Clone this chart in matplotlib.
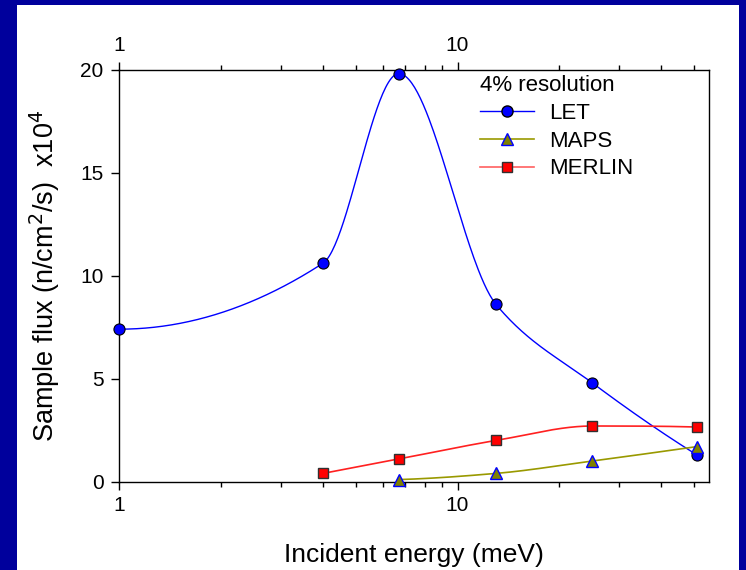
import numpy as np
import matplotlib
matplotlib.use("Agg")
import matplotlib.pyplot as plt
from matplotlib.patches import Rectangle
from matplotlib.lines import Line2D
from matplotlib.ticker import FixedLocator, FixedFormatter, NullFormatter, LogLocator

plt.rcParams['font.family'] = ['Liberation Sans', 'DejaVu Sans']

# data
let_e = [1, 4, 6.7, 13, 25, 51]
let_flux = [7.4, 10.6, 19.8, 8.6, 4.8, 1.3]
maps_e = [6.7, 13, 25, 51]
maps_flux = [0.1, 0.4, 1.0, 1.7]
merlin_e = [4, 6.7, 13, 25, 51]
merlin_flux = [0.4, 1.1, 2.0, 2.7, 2.65]


def smooth(x, y, n=400):
    # monotone cubic (pchip) through the points, in log10(x)
    t = np.log10(np.asarray(x, float))
    y = np.asarray(y, float)
    h = np.diff(t)
    dl = np.diff(y) / h
    k = len(t)
    d = np.zeros(k)
    for i in range(1, k - 1):
        if dl[i - 1] * dl[i] > 0:
            w1 = 2 * h[i] + h[i - 1]
            w2 = h[i] + 2 * h[i - 1]
            d[i] = (w1 + w2) / (w1 / dl[i - 1] + w2 / dl[i])

    def end(h0, h1, m0, m1):
        v = ((2 * h0 + h1) * m0 - h0 * m1) / (h0 + h1)
        if np.sign(v) != np.sign(m0):
            return 0.0
        if np.sign(m0) != np.sign(m1) and abs(v) > 3 * abs(m0):
            return 3 * m0
        return v

    if k > 2:
        d[0] = end(h[0], h[1], dl[0], dl[1])
        d[-1] = end(h[-1], h[-2], dl[-1], dl[-2])
    else:
        d[:] = dl[0]
    tt = np.linspace(t[0], t[-1], n)
    j = np.clip(np.searchsorted(t, tt) - 1, 0, k - 2)
    s = (tt - t[j]) / h[j]
    h00 = 2 * s ** 3 - 3 * s ** 2 + 1
    h10 = s ** 3 - 2 * s ** 2 + s
    h01 = -2 * s ** 3 + 3 * s ** 2
    h11 = s ** 3 - s ** 2
    yy = h00 * y[j] + h10 * h[j] * d[j] + h01 * y[j + 1] + h11 * h[j] * d[j + 1]
    return 10 ** tt, yy


fig = plt.figure(figsize=(7.46, 5.70), dpi=100)
fig.patch.set_facecolor('white')
navy = '#00009C'
for r in [(0, 0, 17 / 746, 1), (0, 1 - 5 / 570, 1, 5 / 570), (739 / 746, 0, 7 / 746, 1)]:
    fig.add_artist(Rectangle(r[:2], r[2], r[3], transform=fig.transFigure,
                             facecolor=navy, edgecolor='none', zorder=-1))

ax = fig.add_axes([0.160, 0.155, 0.790, 0.723])

sx, sy = smooth(let_e, let_flux)
ax.plot(sx, sy, color='#0000FF', lw=1.0, zorder=2)
ax.plot(let_e, let_flux, 'o', color='#0000FF', mec='black', mew=0.8, ms=8,
        zorder=4, clip_on=False)
sx, sy = smooth(maps_e, maps_flux)
ax.plot(sx, sy, color='#999900', lw=1.2, zorder=2)
ax.plot(maps_e, maps_flux, '^', color='#808000', mec='#0000FF', mew=1.0, ms=8.5,
        zorder=4, clip_on=False)
sx, sy = smooth(merlin_e, merlin_flux)
ax.plot(sx, sy, color='#FF2020', lw=1.2, zorder=2)
ax.plot(merlin_e, merlin_flux, 's', color='#FF0000', mec='#303030', mew=1.0,
        ms=7.5, zorder=4)

# legend handles
handles = [
    Line2D([], [], color='#0000FF', lw=1.0, marker='o', mfc='#0000FF',
           mec='black', ms=8),
    Line2D([], [], color='#999900', lw=1.2, marker='^', mfc='#808000',
           mec='#0000FF', ms=8.5),
    Line2D([], [], color='#FF6060', lw=1.2, marker='s', mfc='#FF0000',
           mec='#303030', ms=7.5),
]
leg = ax.legend(handles, ['LET', 'MAPS', 'MERLIN'], title='4% resolution',
                loc='upper left', bbox_to_anchor=(0.59, 1.018), frameon=False,
                fontsize=16, title_fontsize=16, handlelength=2.4,
                labelspacing=0.3, handletextpad=0.7, borderaxespad=0.2)
leg._legend_box.align = 'left'

ax.set_xscale('log')
ax.set_xlim(1, 55.3)
ax.set_ylim(0, 20)
ax.set_yticks([0, 5, 10, 15, 20])
ax.xaxis.set_major_locator(FixedLocator([1, 10]))
ax.xaxis.set_major_formatter(FixedFormatter(['1', '10']))
ax.xaxis.set_minor_locator(LogLocator(base=10, subs=np.arange(2, 10)))
ax.xaxis.set_minor_formatter(NullFormatter())
ax.tick_params(axis='both', which='major', labelsize=15, length=5.5, width=1,
               direction='out')
ax.tick_params(axis='y', which='major', pad=6)
ax.tick_params(axis='x', which='minor', length=3.5, width=1, direction='out')
ax.tick_params(axis='x', which='both', top=True, labeltop=True)
ax.tick_params(axis='x', which='major', pad=5)

for s in ax.spines.values():
    s.set_linewidth(1.0)

ax.set_xlabel('Incident energy (meV)', fontsize=19, labelpad=20)
ax.set_ylabel('Sample flux (n/cm$^2$/s)  x10$^4$', fontsize=19.5, labelpad=13)

fig.savefig('out.png', dpi=100, facecolor=fig.get_facecolor())
